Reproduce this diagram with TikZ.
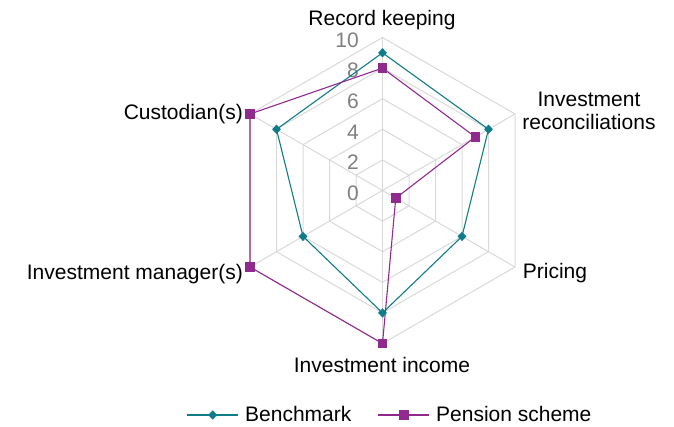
\documentclass[tikz,border=0pt]{standalone}
\usepackage{fontspec}
\setmainfont{Liberation Sans}
\usetikzlibrary{shapes.geometric}
\definecolor{bench}{HTML}{0E7C8B}
\definecolor{pens}{HTML}{912A8E}
\definecolor{gridc}{HTML}{D9D9D9}
\definecolor{tickc}{HTML}{808080}
\begin{document}
\begin{tikzpicture}[x=1pt,y=1pt,
  font=\fontsize{21}{23.5}\selectfont,
  gridline/.style={draw=gridc, line width=1pt},
  benchline/.style={draw=bench, line width=1.1pt, line join=round},
  pensline/.style={draw=pens, line width=1.1pt, line join=round},
  bmark/.style={diamond, fill=bench, inner sep=0pt, minimum width=9pt, minimum height=9.5pt},
  pmark/.style={rectangle, fill=pens, inner sep=0pt, minimum size=9.5pt},
  axlabel/.style={inner sep=0pt, text=black},
  ticklabel/.style={inner sep=0pt, text=tickc, anchor=east}]
\useasboundingbox (0,0) rectangle (674,426);
\coordinate (O) at (382.5,235.5);
\begin{scope}[shift={(O)}]
  % grid rings
  \foreach \r in {2,4,6,8,10}{
    \draw[gridline] (90:\r*15.3) -- (30:\r*15.3) -- (-30:\r*15.3) -- (-90:\r*15.3) -- (210:\r*15.3) -- (150:\r*15.3) -- cycle;
  }
  % spokes
  \foreach \a in {90,30,-30,-90,210,150}{
    \draw[gridline] (0,0) -- (\a:153);
  }
  % tick labels
  \foreach \v in {0,2,4,6,8,10}{
    \node[ticklabel] (t\v) at (-23.5,\v*15.3-2.5) {\v};
  }
  % data points
  \coordinate (b1) at (90:9*15.3);
  \coordinate (b2) at (30:8*15.3);
  \coordinate (b3) at (-30:6*15.3);
  \coordinate (b4) at (-90:8*15.3);
  \coordinate (b5) at (210:6*15.3);
  \coordinate (b6) at (150:8*15.3);
  \coordinate (p1) at (90:8*15.3);
  \coordinate (p2) at (30:7*15.3);
  \coordinate (p3) at (-30:1*15.3);
  \coordinate (p4) at (-90:10*15.3);
  \coordinate (p5) at (210:10*15.3);
  \coordinate (p6) at (150:10*15.3);
  \draw[benchline] (b1) -- (b2) -- (b3) -- (b4) -- (b5) -- (b6) -- cycle;
  \draw[pensline] (p1) -- (p2) -- (p3) -- (p4) -- (p5) -- (p6) -- cycle;
  \foreach \i in {1,...,6}{
    \node[bmark] (bm\i) at (b\i) {};
    \node[pmark] (pm\i) at (p\i) {};
  }
\end{scope}
% axis labels
\node[axlabel, anchor=base] (l1) at (382,400) {Record keeping};
\node[axlabel, anchor=south, align=center] (l2) at (589,296) {Investment\\reconciliations};
\node[axlabel, anchor=base west] (l3) at (522.7,148) {Pricing};
\node[axlabel, anchor=base] (l4) at (382,53.3) {Investment income};
\node[axlabel, anchor=base east] (l5) at (243,147) {Investment manager(s)};
\node[axlabel, anchor=base east] (l6) at (243,306.7) {Custodian(s)};
% legend
\coordinate (lb1) at (187,11);
\coordinate (lb2) at (238,11);
\draw[benchline] (lb1) -- (lb2);
\node[bmark] (lbm) at (212.7,11) {};
\node[axlabel, anchor=base west] (lbt) at (245,4.3) {Benchmark};
\coordinate (lp1) at (378,11);
\coordinate (lp2) at (429,11);
\draw[pensline] (lp1) -- (lp2);
\node[pmark] (lpm) at (404,11) {};
\node[axlabel, anchor=base west] (lpt) at (436,4.3) {Pension scheme};
\end{tikzpicture}
\end{document}
